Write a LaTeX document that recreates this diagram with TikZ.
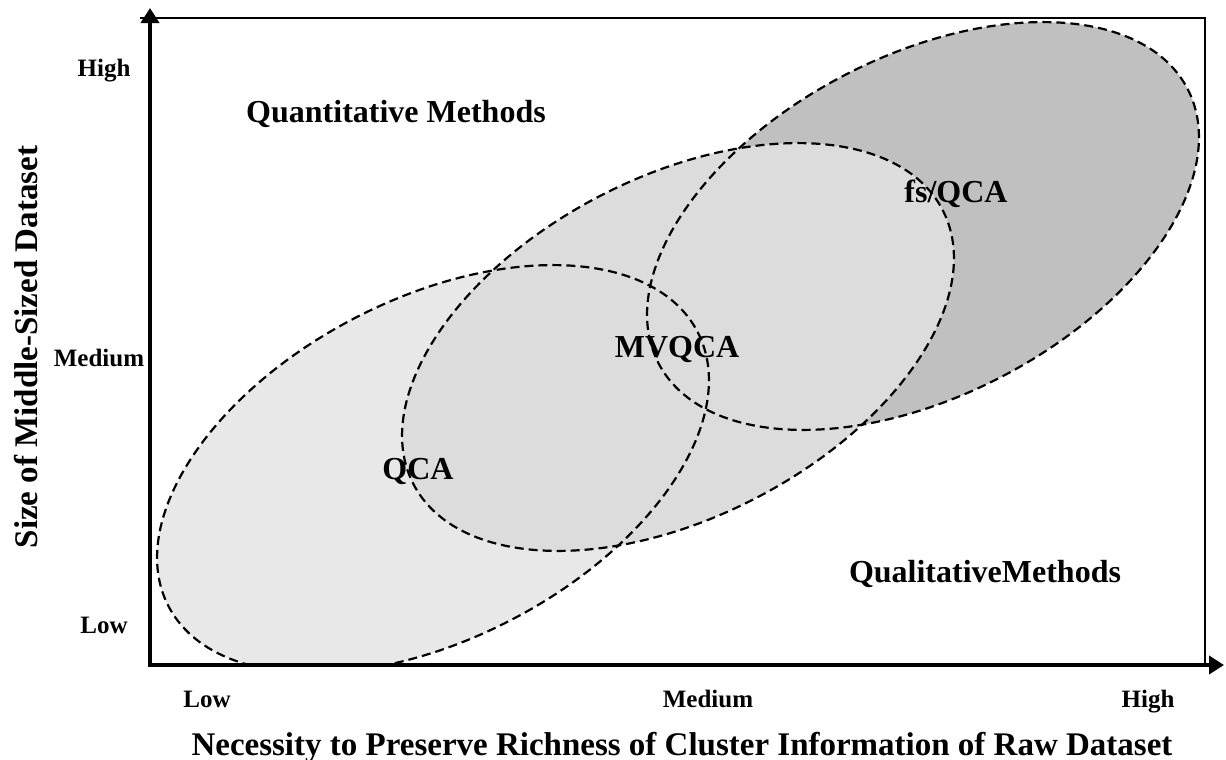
\documentclass[tikz,border=0pt]{standalone}
\usepackage{fontspec}
\setmainfont{Liberation Serif}
\usetikzlibrary{arrows.meta}
\definecolor{lightfill}{gray}{0.91}
\definecolor{midfill}{gray}{0.863}
\definecolor{darkfill}{gray}{0.753}
\begin{document}
\begin{tikzpicture}[
        x=0.5pt, y=-0.5pt,
        tick/.style={font=\bfseries\fontsize{12.5}{15}\selectfont, anchor=base},
        method/.style={font=\bfseries\fontsize{16}{19}\selectfont, anchor=base},
        axistitle/.style={font=\bfseries\fontsize{16.5}{20}\selectfont, anchor=base},
        region/.style={dash pattern=on 4.5pt off 2.5pt, line width=1.1pt},
        axis/.style={line width=2pt, line cap=rect, -{Triangle[length=7.5pt,width=9pt]}}
    ]
    \useasboundingbox (0,0) rectangle (1226,760);

    % Corner points of the chart
    \coordinate (origin) at (150,665);
    \coordinate (ytip) at (150,8);
    \coordinate (xtip) at (1224,665);
    \coordinate (tl) at (140,18);
    \coordinate (tr) at (1205,18);
    \coordinate (br) at (1205,665);

    \begin{scope}
        \clip (origin) rectangle (tr);
        % Filled regions
        \fill[lightfill, rotate around={27.4:(433,469)}] (433,469) ellipse [x radius=298, y radius=170];
        \fill[darkfill, rotate around={27.4:(923,226)}] (923,226) ellipse [x radius=298, y radius=170];
        \fill[midfill, rotate around={27.4:(678,347)}] (678,347) ellipse [x radius=298, y radius=170];

        % Dashed outlines
        \draw[region, rotate around={27.4:(433,469)}] (433,469) ellipse [x radius=298, y radius=170];
        \draw[region, rotate around={27.4:(923,226)}] (923,226) ellipse [x radius=298, y radius=170];
        \draw[region, rotate around={27.4:(678,347)}] (678,347) ellipse [x radius=298, y radius=170];
    \end{scope}

    % Frame and axes
    \draw[line width=1pt] (tl) -- (tr) -- (br);
    \draw[axis] (origin) -- (ytip);
    \draw[axis] (origin) -- (xtip);

    % Tick labels
    \node[tick] (yhigh) at (104,76) {High};
    \node[tick] (ymed) at (99,366) {Medium};
    \node[tick] (ylow) at (104,633) {Low};
    \node[tick] (xlow) at (207,707) {Low};
    \node[tick] (xmed) at (708,707) {Medium};
    \node[tick] (xhigh) at (1148,707) {High};

    % Region labels
    \node[method] (quant) at (396,122) {Quantitative Methods};
    \node[method] (qual) at (985,582) {QualitativeMethods};
    \node[method] (qca) at (418,479) {QCA};
    \node[method] (mvqca) at (677,357) {MVQCA};
    \node[method] (fsqca) at (956,202) {fs/QCA};

    % Axis titles
    \node[axistitle] (xtitle) at (682,755) {Necessity to Preserve Richness of Cluster Information of Raw Dataset};
    \node[axistitle, rotate=90] (ytitle) at (37,347) {Size of Middle-Sized Dataset};
\end{tikzpicture}
\end{document}
